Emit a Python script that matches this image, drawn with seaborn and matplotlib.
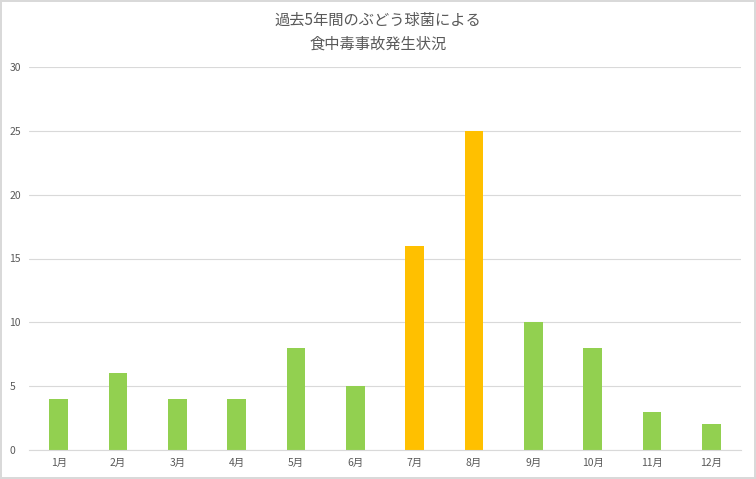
import seaborn as sns
import pandas as pd
import matplotlib.pyplot as plt

months = ["1月", "2月", "3月", "4月", "5月", "6月", "7月", "8月", "9月", "10月", "11月", "12月"]
cases = [4, 6, 4, 4, 8, 5, 16, 25, 10, 8, 3, 2]
highlight = ["7月", "8月"]

df = pd.DataFrame({"month": months, "cases": cases})
palette = ["#FFC000" if m in highlight else "#92D050" for m in months]

sns.set_style("white")
plt.rcParams['font.family'] = ['Noto Sans CJK JP', 'DejaVu Sans']

fig = plt.figure(figsize=(7.56, 4.79), dpi=100)
fig.patch.set_edgecolor("#D9D9D9")
fig.patch.set_linewidth(1.5)
ax = fig.add_axes([29 / 756, (479 - 450) / 479, 712 / 756, (450 - 67) / 479])

sns.barplot(x="month", y="cases", data=df, hue="month", palette=palette,
            legend=False, width=0.31, ax=ax, saturation=1, linewidth=0)

ax.set_ylim(0, 30)
ax.set_yticks(range(0, 31, 5))
ax.set_xlim(-0.5, 11.5)
ax.yaxis.grid(True, color="#D9D9D9", linewidth=0.8)
ax.set_axisbelow(True)
for s in ["top", "right", "left"]:
    ax.spines[s].set_visible(False)
ax.spines["bottom"].set_color("#D9D9D9")
ax.set_xlabel("")
ax.set_ylabel("")
ax.tick_params(axis="both", length=0, labelsize=7.5, colors="#595959")
ax.tick_params(axis="x", pad=6)
ax.tick_params(axis="y", pad=14)
for lbl in ax.get_yticklabels():
    lbl.set_horizontalalignment("left")

fig.text(0.5, 1 - 32 / 479, "過去5年間のぶどう球菌による\n食中毒事故発生状況",
         ha="center", va="center", fontsize=11, color="#595959", linespacing=1.5)

fig.savefig("out.png", dpi=100, edgecolor=fig.get_edgecolor())
